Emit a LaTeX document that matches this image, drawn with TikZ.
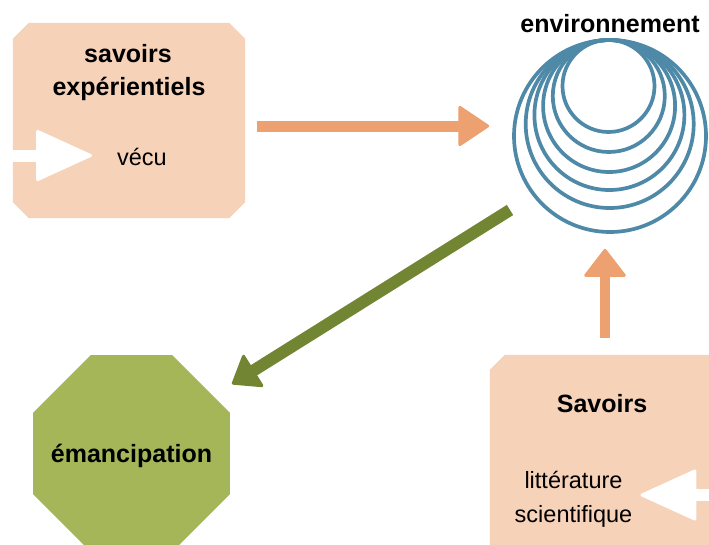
\documentclass[tikz,border=0pt]{standalone}
\usepackage{fontspec}
\setmainfont{Liberation Sans}
\usetikzlibrary{shapes.geometric,arrows.meta}
\definecolor{peach}{HTML}{F6D2B9}
\definecolor{orangearr}{HTML}{EDA070}
\definecolor{greenarr}{HTML}{728533}
\definecolor{octgreen}{HTML}{A4B657}
\definecolor{ringblue}{HTML}{4F89A8}
\begin{document}
\begin{tikzpicture}[x=1pt,y=-1pt,
  box/.style={rectangle, draw=none, inner sep=0pt},
  chamf/.style={fill=peach},
  boldtxt/.style={font=\fontsize{25}{30}\selectfont\bfseries, inner sep=0pt, anchor=base},
  regtxt/.style={font=\fontsize{23.5}{28}\selectfont, inner sep=0pt, anchor=base},
  ring/.style={circle, draw=ringblue, line width=3.7pt, inner sep=0pt},
  orangearrow/.style={draw=orangearr, line width=11pt, -{Triangle[length=32pt,width=42pt,round,line width=3pt]}},
  vertarrow/.style={draw=orangearr, line width=10pt, -{Triangle[length=29pt,width=44pt,round,line width=3pt]}},
  greenarrow/.style={draw=greenarr, line width=12pt, -{Triangle[length=27pt,width=40pt,round,line width=3pt]}},
  whitearrow/.style={draw=white, line width=12pt, -{Triangle[length=58pt,width=52pt,round,line width=3pt]}}]
\clip (0,0) rectangle (709,544);
\useasboundingbox (0,0) rectangle (709,544);

% boxes
\node[box, minimum width=232pt, minimum height=195pt] (box1) at (129,120.5) {};
\fill[chamf] ([xshift=16pt]box1.north west) -- ([xshift=-16pt]box1.north east)
  -- ([yshift=-16pt]box1.north east) -- ([yshift=16pt]box1.south east)
  -- ([xshift=-16pt]box1.south east) -- ([xshift=16pt]box1.south west)
  -- ([yshift=16pt]box1.south west) -- ([yshift=-16pt]box1.north west) -- cycle;
\node[box, minimum width=250pt, minimum height=225pt] (box2) at (615,467.5) {};
\fill[chamf] ([xshift=15pt]box2.north west) -- ([xshift=-15pt]box2.north east)
  -- ([yshift=-15pt]box2.north east) -- ([yshift=15pt]box2.south east)
  -- ([xshift=-15pt]box2.south east) -- ([xshift=15pt]box2.south west)
  -- ([yshift=15pt]box2.south west) -- ([yshift=-15pt]box2.north west) -- cycle;
\node[regular polygon, regular polygon sides=8, minimum size=213pt, inner sep=0pt, fill=octgreen] (oct) at (131.5,453.5) {};

% rings
\node[ring, minimum size=92pt]  (r1) at (608.5,86) {};
\node[ring, minimum size=112pt] (r2) at (608.8,96) {};
\node[ring, minimum size=132pt] (r3) at (609.1,106) {};
\node[ring, minimum size=150pt] (r4) at (609.4,115) {};
\node[ring, minimum size=168pt] (r5) at (609.7,124) {};
\node[ring, minimum size=192pt] (env) at (610,136) {};

% texts
\node[boldtxt] (t1a) at (128,62) {savoirs};
\node[boldtxt] (t1b) at (129,95.5) {expérientiels};
\node[regtxt] (vecu) at (142,165) {vécu};
\node[boldtxt] (tenv) at (610,32) {environnement};
\node[boldtxt] (tsav) at (602,412) {Savoirs};
\node[regtxt] (lit1) at (573.5,488) {littérature};
\node[regtxt] (lit2) at (573.5,522) {scientifique};
\node[boldtxt] (temanc) at (131.5,462) {émancipation};

% free ends
\coordinate (vin) at (0,155.5);
\coordinate (lin) at (720,495);

% connectors
\draw[whitearrow] (vin) -- ([xshift=-25pt]vecu.west |- vin);
\draw[whitearrow] (lin) -- ([xshift=8pt]lit2.east |- lin);
\draw[orangearrow] ([shift={(12,5.5)}]box1.east) -- ([shift={(-23,-10)}]env.west);
\draw[vertarrow] ([shift={(-10,-17)}]box2.north) -- ([shift={(-5,15)}]env.south);
\draw[greenarrow] ([shift={(-100,74)}]env.center) -- ([shift={(100.5,-69.5)}]oct.center);
\end{tikzpicture}
\end{document}
